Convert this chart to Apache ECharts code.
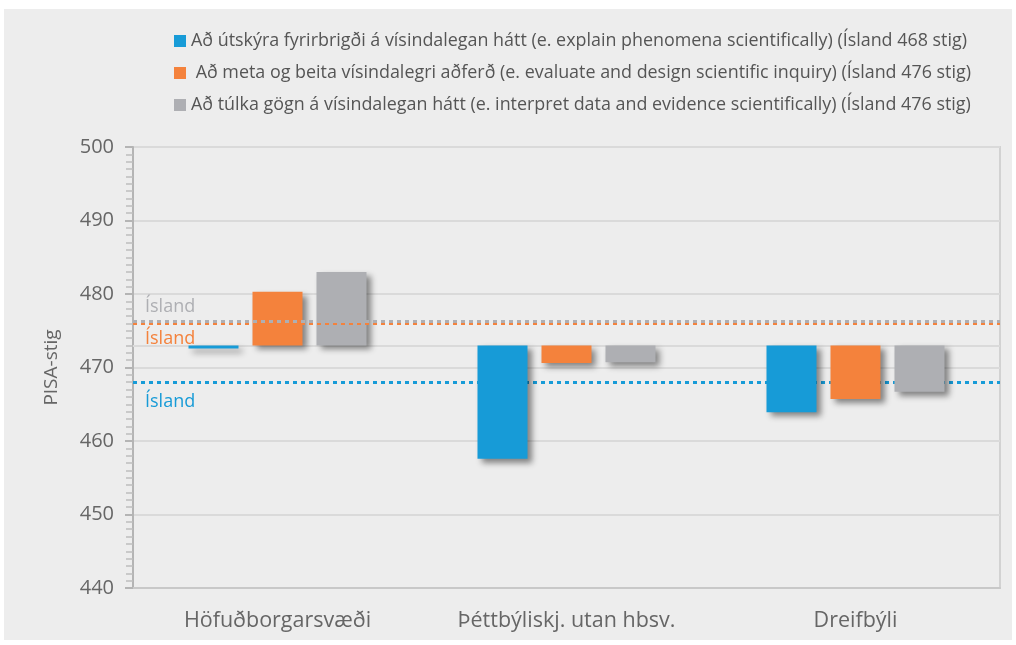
<!DOCTYPE html>
<html>
<head>
<meta charset="utf-8">
<script src="https://cdn.jsdelivr.net/npm/echarts@6/dist/echarts.min.js"></script>
<style>
    body { margin: 0; background: #ffffff; }
    #panel { position: absolute; left: 4px; top: 9px; width: 1008px; height: 631px; background: #ededed; }
    #main { position: absolute; left: 0; top: 0; width: 1016px; height: 645px; }
</style>
</head>
<body>
<div id="panel"></div>
<div id="main"></div>
<script>
// flokkar (landsvæði)
var categories = ['Höfuðborgarsvæði', 'Þéttbýliskj. utan hbsv.', 'Dreifbýli'];
var seriesNames = [
    'Að útskýra fyrirbrigði á vísindalegan hátt (e. explain phenomena scientifically) (Ísland 468 stig)',
    ' Að meta og beita vísindalegri aðferð (e. evaluate and design scientific inquiry) (Ísland 476 stig)',
    'Að túlka gögn á vísindalegan hátt (e. interpret data and evidence scientifically) (Ísland 476 stig)'
];
var explainData = [472.6, 457.6, 463.9];
var evaluateData = [480.3, 470.6, 465.7];
var interpretData = [483.0, 470.7, 466.7];
var islandLines = [468, 476, 476.3];
var baseValue = 473;
var yTicks = [440, 450, 460, 470, 480, 490, 500];

var colors = ['#179bd7', '#f4823c', '#aeafb3'];
var allData = [explainData, evaluateData, interpretData];
var labelPos = ['insideStartBottom', 'insideStartBottom', 'insideStartTop'];
var labelDist = [[12, 11], [12, 6], [12, 5]];

function buildSeries() {
    var list = [];
    for (var i = 0; i < allData.length; i++) {
        var vals = allData[i];
        // ósýnilegur grunnur svo súlan byrji í baseValue
        list.push({
            name: 'base' + i,
            type: 'bar',
            stack: 's' + i,
            silent: true,
            barWidth: 50,
            barGap: '28%',
            itemStyle: { color: 'transparent' },
            data: vals.map(function (v) { return Math.min(v, baseValue); })
        });
        var lineData = [{
            yAxis: islandLines[i],
            lineStyle: { color: colors[i], type: [4, 4], width: 3 },
            label: {
                show: true,
                formatter: 'Ísland',
                position: labelPos[i],
                color: colors[i],
                fontSize: 18,
                distance: labelDist[i]
            }
        }];
        if (i == 0) {
            lineData.push({
                yAxis: baseValue,
                lineStyle: { color: '#dadada', type: 'solid', width: 2 },
                label: { show: false }
            });
        }
        list.push({
            name: seriesNames[i],
            type: 'bar',
            stack: 's' + i,
            barWidth: 50,
            barGap: '28%',
            itemStyle: {
                color: colors[i],
                shadowBlur: 6,
                shadowOffsetX: 4,
                shadowOffsetY: 4,
                shadowColor: 'rgba(0,0,0,0.45)'
            },
            markLine: {
                silent: true,
                symbol: 'none',
                z: i == 0 ? 1 : 3,
                data: lineData
            },
            data: vals.map(function (v) { return Math.abs(v - baseValue); })
        });
    }
    return list;
}

var myChart = echarts.init(document.getElementById('main'));
var option = {
    backgroundColor: 'transparent',
    animation: false,
    textStyle: { fontFamily: 'Open Sans' },
    legend: {
        orient: 'vertical',
        left: 169,
        top: 27,
        itemWidth: 12,
        itemHeight: 12,
        itemGap: 14,
        icon: 'rect',
        data: seriesNames,
        textStyle: { color: '#555', fontSize: 17.9 },
        selectedMode: false
    },
    grid: {
        left: 133,
        right: 16,
        top: 147,
        bottom: 57,
        show: true,
        borderColor: '#d2d2d2',
        borderWidth: 2,
        backgroundColor: 'transparent'
    },
    xAxis: {
        type: 'category',
        data: categories,
        axisTick: { show: false },
        axisLine: { lineStyle: { color: '#c8c8c8', width: 2 } },
        axisLabel: { color: '#666', fontSize: 21.5, margin: 22 }
    },
    yAxis: {
        type: 'value',
        min: yTicks[0],
        max: yTicks[yTicks.length - 1],
        interval: 10,
        name: 'PISA-stig',
        nameLocation: 'middle',
        nameGap: 72,
        nameTextStyle: { color: '#666', fontSize: 19 },
        axisLine: { show: true, lineStyle: { color: '#b4b4b4', width: 2 } },
        axisTick: { show: true, length: 8, lineStyle: { color: '#b4b4b4', width: 2 } },
        minorTick: { show: true, splitNumber: 10, length: 7, lineStyle: { color: '#bdbdbd', width: 1.5 } },
        axisLabel: { color: '#666', fontSize: 20, margin: 19 },
        splitLine: { lineStyle: { color: '#dadada', width: 2 } }
    },
    series: buildSeries()
};
myChart.setOption(option);
</script>
</body>
</html>
